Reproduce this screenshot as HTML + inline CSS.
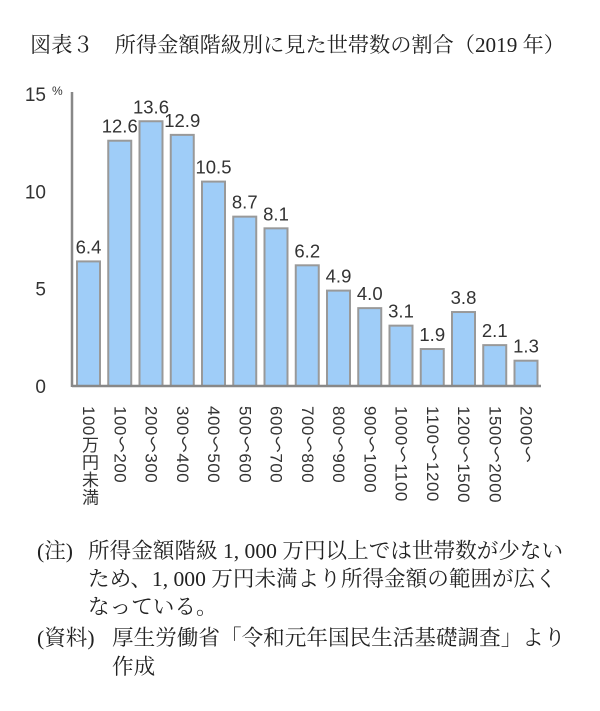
<!DOCTYPE html>
<html><head><meta charset="utf-8"><style>
body{margin:0;background:#fff;width:600px;height:711px;overflow:hidden;}
svg{display:block}
.serif{font-family:"Liberation Serif","Noto Serif CJK SC",serif;fill:#222;}
.sans{font-family:"Liberation Sans","Noto Sans CJK JP",sans-serif;fill:#333;}
</style></head><body>
<svg width="600" height="711">
<text class="serif" x="30" y="52" font-size="21.2">図表３　所得金額階級別に見た世帯数の割合（2019 年）</text>
<g id="chart"></g>
<g class="serif" font-size="21.6">
<text x="37" y="558">(注)</text>
<text x="88" y="558">所得金額階級 1, 000 万円以上では世帯数が少ない</text>
<text x="88" y="586">ため、1, 000 万円未満より所得金額の範囲が広く</text>
<text x="88" y="614">なっている。</text>
<text x="37" y="645">(資料)</text>
<text x="112" y="645">厚生労働省「令和元年国民生活基礎調査」より</text>
<text x="112" y="674">作成</text>
</g>
</svg>
<script>
const categories=["100万円未満","100～200","200～300","300～400","400～500","500～600","600～700","700～800","800～900","900～1000","1000～1100","1100～1200","1200～1500","1500～2000","2000～"];
const values=[6.4,12.6,13.6,12.9,10.5,8.7,8.1,6.2,4.9,4.0,3.1,1.9,3.8,2.1,1.3];
const valueLabels=["6.4","12.6","13.6","12.9","10.5","8.7","8.1","6.2","4.9","4.0","3.1","1.9","3.8","2.1","1.3"];
const yTicks=[0,5,10,15];
const NS="http://www.w3.org/2000/svg";
const g=document.getElementById('chart');
const y0=386,y1=94,yMax=15,xL=72,xR=541;
const y=v=>y0-(v/yMax)*(y0-y1);
const pitch=31.25,bw=23,x0=77;
const x=i=>x0+i*pitch;
function mk(t,a){const e=document.createElementNS(NS,t);for(const k in a)e.setAttribute(k,a[k]);g.appendChild(e);return e;}
yTicks.forEach(t=>{
 const e=mk('text',{x:46,y:y(t)+7,'font-size':19,'text-anchor':'end',class:'sans'});
 
 
 e.textContent=t;
});
const pct=mk('text',{x:52,y:y(15)+1,'font-size':12,class:'sans'});


pct.textContent='%';
values.forEach((v,i)=>{
 const r=mk('rect',{x:x(i),y:y(v),width:bw,height:y0-y(v),fill:'#9fcdf8',stroke:'#999','stroke-width':2});
 
 
 const t=mk('text',{x:x(i)+bw/2,y:y(v)-8,'font-size':18.5,'text-anchor':'middle',class:'sans',fill:'#444'});
 
 
 t.textContent=valueLabels[i];
 const c=mk('text',{x:x(i)+bw/2,y:406,'font-size':17,class:'sans',style:'writing-mode:vertical-rl;text-orientation:mixed;letter-spacing:0.5px;'});
 
 
 c.textContent=categories[i];
});
const ax=mk('line',{x1:xL,y1:y1-2,x2:xL,y2:y0+1,stroke:'#888','stroke-width':2.5});


const bx=mk('line',{x1:xL,y1:y0,x2:xR,y2:y0,stroke:'#888','stroke-width':2.5});


</script>
</body></html>
